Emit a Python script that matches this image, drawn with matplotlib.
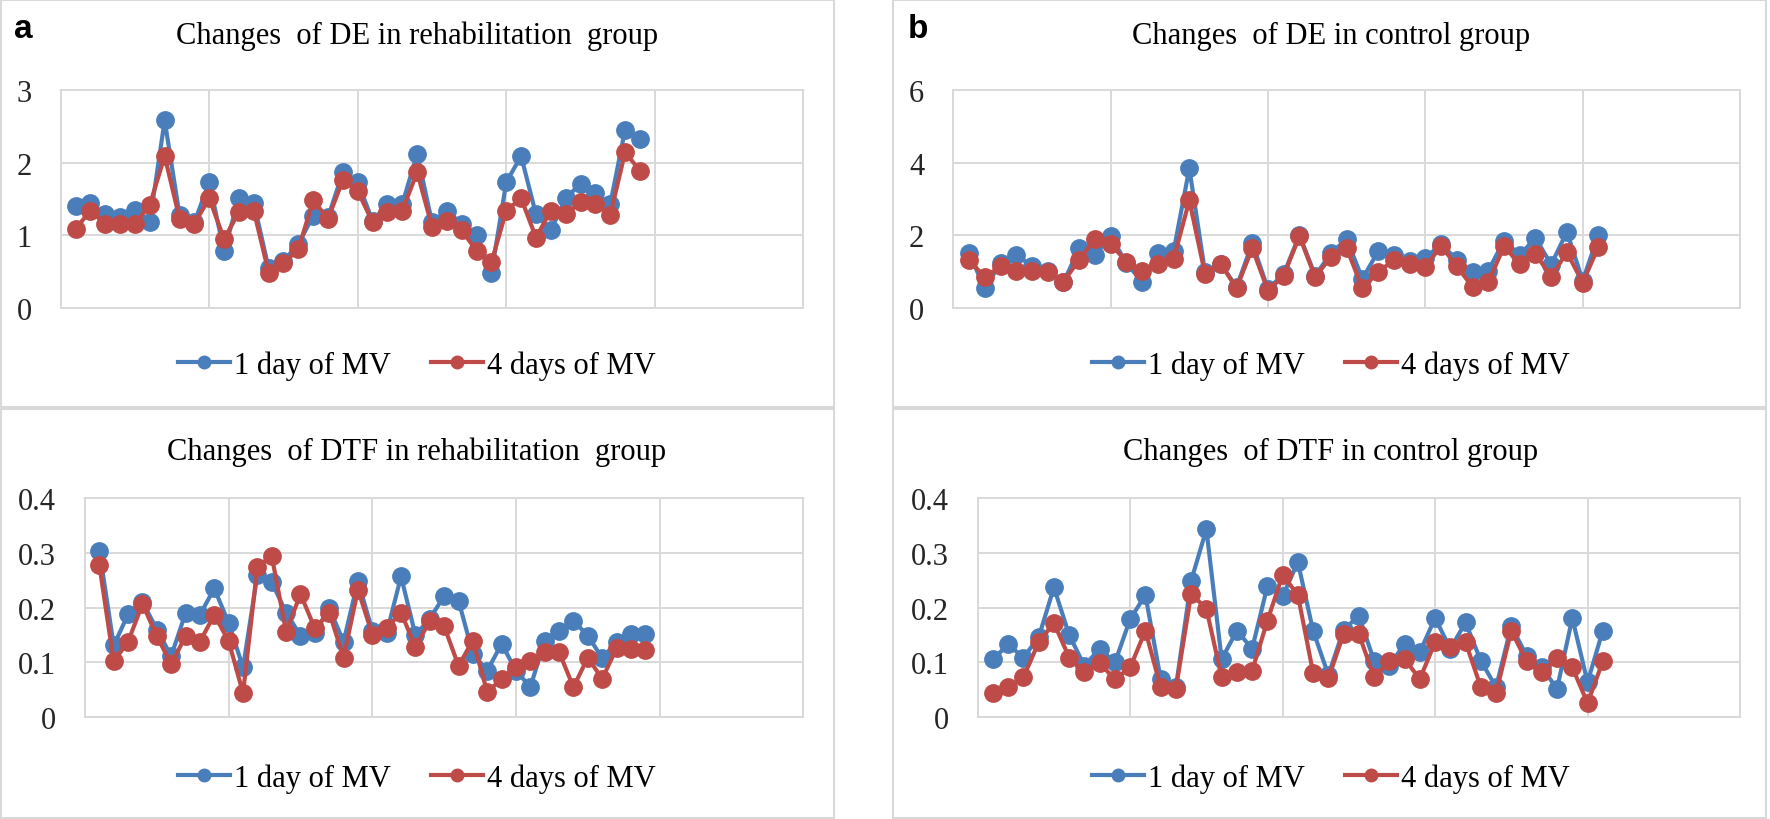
import matplotlib
matplotlib.use("Agg")
import matplotlib.pyplot as plt
from matplotlib.patches import Rectangle
from matplotlib.lines import Line2D

# ---------------- data ----------------
de_rehab_day1 = [1.40, 1.44, 1.29, 1.25, 1.35, 1.19, 2.58, 1.28, 1.18, 1.73, 0.78, 1.52, 1.45,
                 0.55, 0.65, 0.88, 1.27, 1.25, 1.87, 1.73, 1.20, 1.43, 1.43, 2.12, 1.18, 1.34,
                 1.16, 1.00, 0.48, 1.73, 2.09, 1.29, 1.07, 1.51, 1.71, 1.58, 1.43, 2.45, 2.33]
de_rehab_day4 = [1.09, 1.34, 1.16, 1.16, 1.16, 1.42, 2.09, 1.23, 1.16, 1.51, 0.95, 1.32, 1.34,
                 0.49, 0.62, 0.81, 1.48, 1.23, 1.76, 1.61, 1.18, 1.32, 1.34, 1.87, 1.12, 1.20,
                 1.07, 0.79, 0.63, 1.34, 1.51, 0.97, 1.34, 1.29, 1.46, 1.43, 1.28, 2.14, 1.89]

de_ctrl_day1 = [1.51, 0.55, 1.24, 1.46, 1.17, 1.03, 0.71, 1.65, 1.46, 1.99, 1.24, 0.73, 1.51, 1.56,
                3.84, 0.99, 1.22, 0.58, 1.79, 0.53, 0.94, 2.01, 0.90, 1.51, 1.90, 0.81, 1.56, 1.45,
                1.31, 1.37, 1.77, 1.33, 0.99, 1.03, 1.86, 1.46, 1.93, 1.20, 2.10, 0.76, 2.01]
de_ctrl_day4 = [1.33, 0.85, 1.15, 1.03, 1.03, 0.99, 0.73, 1.33, 1.90, 1.77, 1.28, 1.03, 1.22, 1.35,
                2.96, 0.94, 1.22, 0.55, 1.65, 0.48, 0.90, 1.98, 0.85, 1.42, 1.65, 0.55, 0.99, 1.33,
                1.22, 1.13, 1.72, 1.15, 0.59, 0.71, 1.70, 1.22, 1.49, 0.87, 1.54, 0.70, 1.69]

dtf_rehab_day1 = [0.304, 0.131, 0.188, 0.211, 0.160, 0.112, 0.190, 0.187, 0.235, 0.172, 0.091, 0.260,
                  0.246, 0.191, 0.149, 0.154, 0.199, 0.138, 0.249, 0.158, 0.154, 0.257, 0.150, 0.180,
                  0.221, 0.213, 0.116, 0.085, 0.134, 0.085, 0.055, 0.140, 0.158, 0.176, 0.149, 0.108,
                  0.137, 0.152, 0.152]
dtf_rehab_day4 = [0.277, 0.102, 0.138, 0.207, 0.148, 0.097, 0.148, 0.138, 0.187, 0.139, 0.044, 0.275,
                  0.294, 0.156, 0.225, 0.162, 0.191, 0.109, 0.233, 0.151, 0.163, 0.191, 0.128, 0.176,
                  0.166, 0.094, 0.140, 0.046, 0.070, 0.091, 0.103, 0.120, 0.119, 0.055, 0.109, 0.070,
                  0.126, 0.125, 0.123]

dtf_ctrl_day1 = [0.106, 0.133, 0.109, 0.146, 0.237, 0.150, 0.094, 0.125, 0.100, 0.179, 0.223, 0.070,
                 0.055, 0.249, 0.343, 0.106, 0.158, 0.125, 0.239, 0.221, 0.283, 0.158, 0.077, 0.160,
                 0.185, 0.103, 0.094, 0.134, 0.119, 0.181, 0.125, 0.173, 0.103, 0.055, 0.167, 0.112,
                 0.091, 0.052, 0.181, 0.064, 0.158]
dtf_ctrl_day4 = [0.044, 0.055, 0.073, 0.137, 0.172, 0.109, 0.082, 0.099, 0.069, 0.091, 0.158, 0.055,
                 0.052, 0.225, 0.198, 0.073, 0.082, 0.085, 0.176, 0.260, 0.223, 0.081, 0.071, 0.152,
                 0.152, 0.073, 0.102, 0.106, 0.070, 0.137, 0.128, 0.137, 0.055, 0.044, 0.158, 0.102,
                 0.082, 0.109, 0.091, 0.026, 0.102]

titles = ["Changes  of DE in rehabilitation  group", "Changes  of DE in control group",
          "Changes  of DTF in rehabilitation  group", "Changes  of DTF in control group"]
series_names = ["1 day of MV", "4 days of MV"]
de_rehab_ticks = [0, 1, 2, 3]
de_ctrl_ticks = [0, 2, 4, 6]
dtf_ticks = [0, 0.1, 0.2, 0.3, 0.4]
dtf_ticklabels = ["0", "0.1", "0.2", "0.3", "0.4"]
panel_labels = ["a", "b"]

# ---------------- style ----------------
W, H = 1770, 820
BLUE = "#4A7EBB"
RED = "#BE4B48"
GRID = "#D9D9D9"
SERIF = ["Liberation Serif", "DejaVu Serif"]

fig = plt.figure(figsize=(W / 100, H / 100), dpi=100)
fig.patch.set_facecolor("white")


def frac_rect(x0, y0, x1, y1):
    return [x0 / W, 1 - y1 / H, (x1 - x0) / W, (y1 - y0) / H]


# panel boxes (outline only, so the charts stay visible)
for (x0, y0, x1, y1) in [(1, 1, 834, 408), (1, 410, 834, 819),
                         (893, 1, 1766, 408), (893, 410, 1766, 819)]:
    fig.patches.append(Rectangle((x0 / W, 1 - y1 / H), (x1 - x0) / W, (y1 - y0) / H,
                                 transform=fig.transFigure, facecolor="none",
                                 edgecolor=GRID, linewidth=1.5, zorder=-1))

panels = [
    dict(rect=(60.7, 90.7, 803.3, 309.3), d1=de_rehab_day1, d4=de_rehab_day4,
         ticks=de_rehab_ticks, labels=[str(t) for t in de_rehab_ticks], title=titles[0],
         cx=417, ty=36, ly=366),
    dict(rect=(953.3, 90.7, 1740, 309.3), d1=de_ctrl_day1, d4=de_ctrl_day4,
         ticks=de_ctrl_ticks, labels=[str(t) for t in de_ctrl_ticks], title=titles[1],
         cx=1331, ty=36, ly=366),
    dict(rect=(85, 499, 803.3, 718.3), d1=dtf_rehab_day1, d4=dtf_rehab_day4,
         ticks=dtf_ticks, labels=dtf_ticklabels, title=titles[2],
         cx=417, ty=452, ly=779),
    dict(rect=(977.7, 499, 1740, 718.3), d1=dtf_ctrl_day1, d4=dtf_ctrl_day4,
         ticks=dtf_ticks, labels=dtf_ticklabels, title=titles[3],
         cx=1331, ty=452, ly=779),
]

for p in panels:
    ax = fig.add_axes(frac_rect(*p["rect"]))
    ax.patch.set_alpha(0)
    x1 = list(range(1, len(p["d1"]) + 1))
    x4 = list(range(1, len(p["d4"]) + 1))
    ax.plot(x1, p["d1"], color=BLUE, lw=3.0, marker="o", ms=12.5, mec=BLUE, mfc=BLUE,
            zorder=3, solid_joinstyle="round", clip_on=False)
    ax.plot(x4, p["d4"], color=RED, lw=3.0, marker="o", ms=12.5, mec=RED, mfc=RED,
            zorder=4, solid_joinstyle="round", clip_on=False)
    ax.set_xlim(0, 50)
    ax.set_ylim(p["ticks"][0], p["ticks"][-1])
    ax.set_xticks(range(0, 51, 10))
    ax.set_xticklabels([])
    ax.set_yticks(p["ticks"])
    ax.set_yticklabels(p["labels"], fontfamily=SERIF, fontsize=22, color="#262626")
    ax.tick_params(axis="both", length=0)
    ax.tick_params(axis="y", pad=21)
    ax.grid(True, color=GRID, lw=1.4, zorder=0)
    ax.set_axisbelow(True)
    for s in ax.spines.values():
        s.set_color(GRID)
        s.set_linewidth(1.4)

    fig.text(p["cx"] / W, 1 - p["ty"] / H, p["title"], ha="center", va="center",
             fontfamily=SERIF, fontsize=22, color="black")

    handles = [Line2D([], [], color=BLUE, lw=3.0, marker="o", ms=9),
               Line2D([], [], color=RED, lw=3.0, marker="o", ms=9)]
    fig.legend(handles, series_names, loc="center", ncol=2, frameon=False,
               bbox_to_anchor=(p["cx"] / W, 1 - p["ly"] / H),
               bbox_transform=fig.transFigure,
               prop={"family": SERIF, "size": 22},
               handlelength=1.7, handletextpad=0.15, columnspacing=1.3)

# panel letters
fig.text(23 / W, 1 - 30 / H, panel_labels[0], ha="center", va="center",
         fontfamily=["Liberation Sans", "DejaVu Sans"], fontweight="bold", fontsize=24)
fig.text(918 / W, 1 - 30 / H, panel_labels[1], ha="center", va="center",
         fontfamily=["Liberation Sans", "DejaVu Sans"], fontweight="bold", fontsize=24)

fig.savefig("out.png", dpi=100, facecolor="white")
